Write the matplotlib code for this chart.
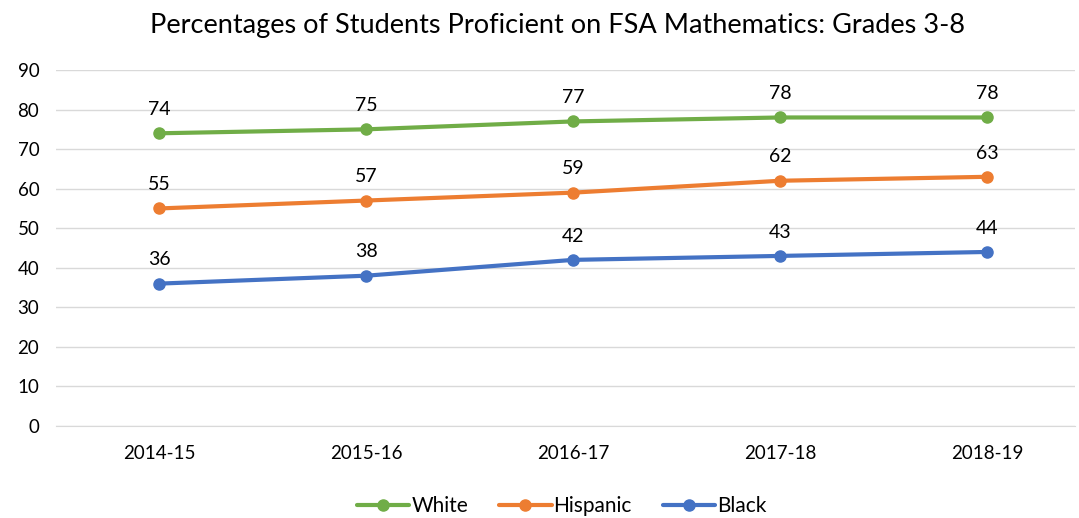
import matplotlib
matplotlib.use("Agg")
import matplotlib.pyplot as plt

years = ["2014-15", "2015-16", "2016-17", "2017-18", "2018-19"]
white = [74, 75, 77, 78, 78]
hispanic = [55, 57, 59, 62, 63]
black = [36, 38, 42, 43, 44]
yticks = [0, 10, 20, 30, 40, 50, 60, 70, 80, 90]

plt.rcParams['font.family'] = ['Lato', 'DejaVu Sans']

W, H = 1079, 518
fig = plt.figure(figsize=(W/100, H/100), dpi=100)
ax = fig.add_axes([56/W, 1-426/H, (1075-56)/W, (426-70)/H])

x = list(range(len(years)))
series = [("White", white, "#70AD47"), ("Hispanic", hispanic, "#ED7D31"), ("Black", black, "#4472C4")]
for name, vals, col in series:
    ax.plot(x, vals, color=col, lw=3, marker='o', ms=8, label=name, solid_capstyle='round')
    for xi, v in zip(x, vals):
        ax.annotate(str(v), (xi, v), xytext=(0, 11), textcoords='offset points',
                    ha='center', va='bottom', fontsize=14, color='#000000')

ax.set_ylim(0, 90)
ax.set_yticks(yticks)
ax.set_xlim(-0.5, (1075-159)/207)
ax.set_xticks(x)
ax.set_xticklabels(years)
ax.tick_params(axis='both', length=0, labelsize=13.5, colors='#000000')
ax.tick_params(axis='x', pad=14)
ax.tick_params(axis='y', pad=12)
ax.grid(axis='y', color='#D9D9D9', lw=1)
ax.set_axisbelow(True)
for s in ['top', 'right', 'left']:
    ax.spines[s].set_visible(False)
ax.spines['bottom'].set_color('#D9D9D9')

fig.text(558/W, 1-25/H, "Percentages of Students Proficient on FSA Mathematics: Grades 3-8",
         ha='center', va='center', fontsize=19.5, color='#000000')

fig.legend(loc='center', bbox_to_anchor=(562/W, 1-506/H), ncol=3, frameon=False,
           fontsize=15, handlelength=2.5, handletextpad=0.1, columnspacing=1.5)

fig.savefig("out.png", dpi=100)
